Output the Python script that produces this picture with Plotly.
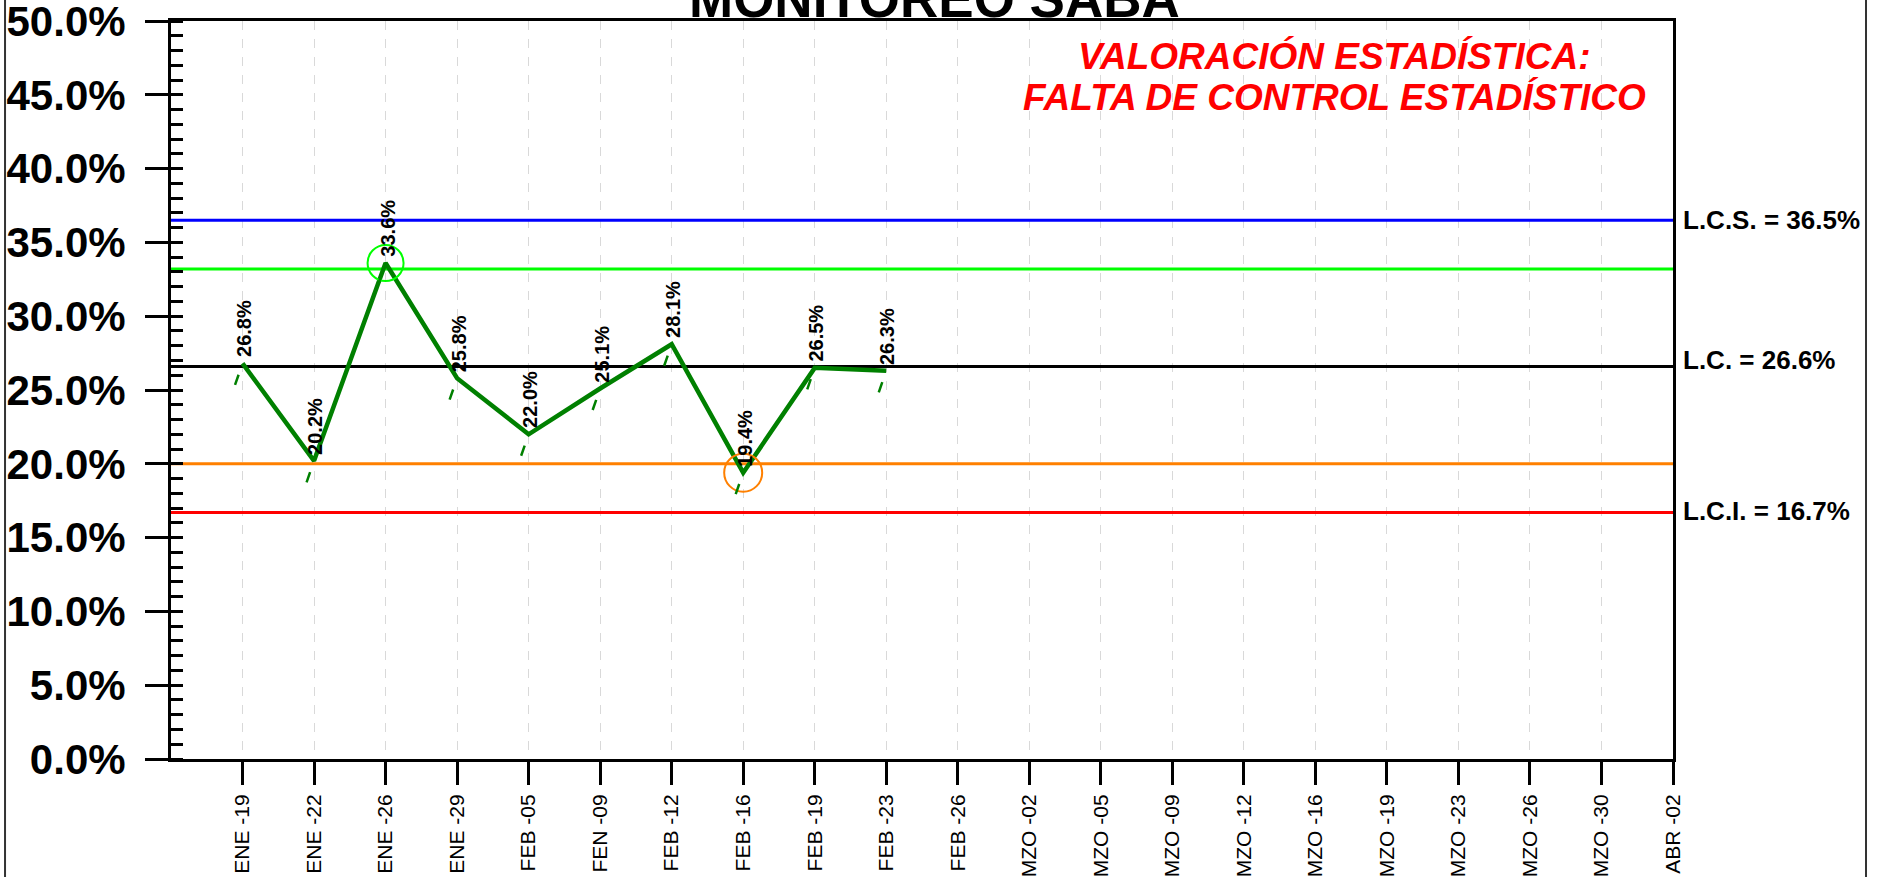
import plotly.graph_objects as go

# Sampling dates (category axis)
categories = [
    "ENE -19", "ENE -22", "ENE -26", "ENE -29", "FEB -05", "FEN -09", "FEB -12",
    "FEB -16", "FEB -19", "FEB -23", "FEB -26", "MZO -02", "MZO -05", "MZO -09",
    "MZO -12", "MZO -16", "MZO -19", "MZO -23", "MZO -26", "MZO -30", "ABR -02",
]
# Measured proportion per sampling date
values = [0.268, 0.202, 0.336, 0.258, 0.220, 0.251, 0.281, 0.194, 0.265, 0.263]

# Control limits
lcs = 0.365        # upper control limit
upper_2s = 0.332   # upper warning line (2 sigma)
lc = 0.266         # centre line
lower_2s = 0.200   # lower warning line (2 sigma)
lci = 0.167        # lower control limit

y_ticks = [0.0, 0.05, 0.10, 0.15, 0.20, 0.25, 0.30, 0.35, 0.40, 0.45, 0.50]

FONT = "Liberation Sans, Arial, sans-serif"
DATA_GREEN = "#008000"

x_idx = list(range(len(categories)))
x_lo, x_hi = -1, len(categories) - 1

fig = go.Figure()

# Horizontal reference lines across the whole plot width
for level, color in [(lcs, "#0000FF"), (upper_2s, "#00FF00"), (lc, "#000000"),
                     (lower_2s, "#FF8000"), (lci, "#FF0000")]:
    fig.add_trace(go.Scatter(
        x=[x_lo, x_hi], y=[level, level], mode="lines",
        line=dict(color=color, width=3), hoverinfo="skip",
    ))

# Measured series
fig.add_trace(go.Scatter(
    x=x_idx[:len(values)], y=values, mode="lines",
    line=dict(color=DATA_GREEN, width=4.5),
))

# Points beyond the 2-sigma warning lines are circled
hi_x = [i for i, v in enumerate(values) if v > upper_2s]
hi_y = [values[i] for i in hi_x]
lo_x = [i for i, v in enumerate(values) if v < lower_2s]
lo_y = [values[i] for i in lo_x]
fig.add_trace(go.Scatter(
    x=hi_x, y=hi_y, mode="markers",
    marker=dict(symbol="circle-open", size=36, color="#00FF00", line=dict(width=2)),
))
fig.add_trace(go.Scatter(
    x=lo_x, y=lo_y, mode="markers",
    marker=dict(symbol="circle-open", size=38, color="#FF8000", line=dict(width=2)),
))

annotations = []

# Value labels (vertical) and small slanted marks under each point
for i, v in enumerate(values):
    annotations.append(dict(
        x=i, y=v, xref="x", yref="y", text=f"{v:.1%}", textangle=-90,
        xanchor="center", yanchor="bottom", showarrow=False,
        xshift=1.5, yshift=4,
        font=dict(family=FONT, size=20, color="black", weight="bold"),
    ))
    annotations.append(dict(
        x=i, y=v, xref="x", yref="y", text="",
        showarrow=True, arrowhead=0, arrowwidth=2.5, arrowcolor=DATA_GREEN,
        ax=-8, ay=23, standoff=12,
    ))

# Limit labels to the right of the plot
for text, level, dy in [(f"L.C.S. = {lcs:.1%}", lcs, 0),
                        (f"L.C. = {lc:.1%}", lc, 6),
                        (f"L.C.I. = {lci:.1%}", lci, 2)]:
    annotations.append(dict(
        x=1.005, y=level, xref="paper", yref="y", text=text,
        xanchor="left", yanchor="middle", showarrow=False, yshift=dy,
        font=dict(family=FONT, size=26, color="black", weight="bold"),
    ))

# Title
annotations.append(dict(
    x=0.508, y=1.0305, xref="paper", yref="paper", text="MONITOREO SABA",
    xanchor="center", yanchor="middle", showarrow=False,
    font=dict(family=FONT, size=53, color="black", weight="bold"),
))

# Statistical assessment
for text, yp in [("VALORACIÓN ESTADÍSTICA:", 0.9525),
                 ("FALTA DE CONTROL ESTADÍSTICO", 0.896)]:
    annotations.append(dict(
        x=0.7745, y=yp, xref="paper", yref="paper", text=text,
        xanchor="center", yanchor="middle", showarrow=False,
        font=dict(family=FONT, size=37, color="#FF0000", weight="bold", style="italic"),
    ))

fig.update_layout(
    width=1877, height=877,
    margin=dict(l=171, r=204, t=21, b=118, pad=0, autoexpand=False),
    paper_bgcolor="white", plot_bgcolor="white",
    showlegend=False,
    annotations=annotations,
    shapes=[dict(
        type="rect", xref="paper", yref="paper",
        x0=-0.1105, x1=1.1285, y0=-0.5, y1=1.5,
        line=dict(color="#333333", width=2), fillcolor="rgba(0,0,0,0)",
    )],
    xaxis=dict(
        range=[x_lo, x_hi], tickmode="array", tickvals=x_idx, ticktext=categories,
        tickangle=-90, ticks="outside", ticklen=23, tickwidth=3, tickcolor="black",
        showline=True, linewidth=3, linecolor="black", mirror=True,
        showgrid=True, gridcolor="#d9d9d9", griddash="dash", gridwidth=1,
        zeroline=False, ticklabelstandoff=1, automargin=False,
        ticklabeloverflow="allow",
        tickfont=dict(family=FONT, size=21, color="black"),
    ),
    yaxis=dict(
        range=[0, 0.5], tickmode="array", tickvals=y_ticks, tickformat=".1%",
        ticks="outside", ticklen=23, tickwidth=3, tickcolor="black",
        showline=True, linewidth=3, linecolor="black", mirror=True,
        showgrid=False, zeroline=False, ticklabelstandoff=11, automargin=False,
        ticklabeloverflow="allow",
        tickfont=dict(family=FONT, size=42, color="black", weight="bold"),
        minor=dict(ticks="inside", dtick=0.01, ticklen=12, tickwidth=3,
                   tickcolor="black", showgrid=False),
    ),
)

fig.write_html("out.html")
